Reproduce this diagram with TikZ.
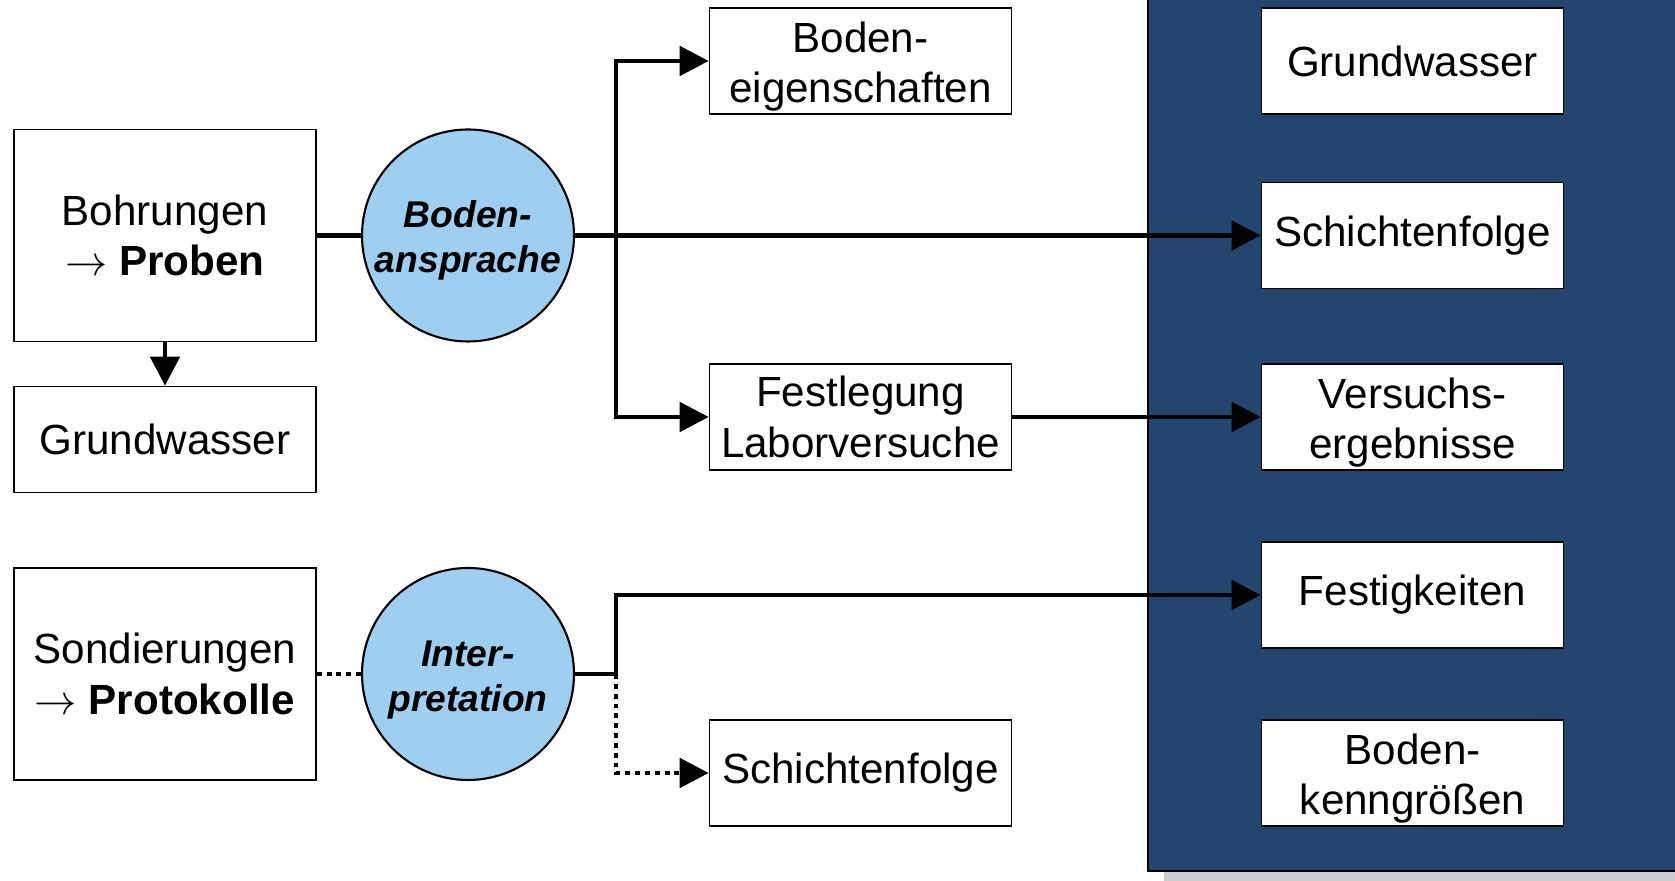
\documentclass[tikz,border=0pt]{standalone}
\usepackage{fontspec}
\setmainfont{Liberation Sans}
\usetikzlibrary{arrows.meta}
\definecolor{panelblue}{RGB}{36,70,110}
\definecolor{circleblue}{RGB}{158,207,241}
\newcommand{\topstrut}{\rule{0pt}{1em}}

\begin{document}
\begin{tikzpicture}[
    box/.style={draw, line width=0.45pt, fill=white, minimum width=3.02cm, minimum height=1.06cm,
      align=center, inner sep=0pt, font=\fontsize{12}{14.3}\selectfont},
    tallbox/.style={box, minimum height=2.12cm},
    actcircle/.style={circle, draw, line width=0.6pt, fill=circleblue, minimum size=2.12cm,
      inner sep=0pt, align=center, font=\fontsize{10.6}{12.8}\selectfont\bfseries\itshape},
    link/.style={line width=1.4pt},
    flow/.style={link, -{Triangle[length=2.9mm,width=2.9mm]}},
    dotlink/.style={link, dash pattern=on 1.4pt off 1.4pt},
]
    \useasboundingbox (0,0) rectangle (16.75,8.81);

    % Results panel with shadow
    \fill[gray!40] (11.64,0) rectangle (16.75,0.10);
    \filldraw[fill=panelblue, draw=black, line width=0.6pt] (11.48,0.10) rectangle (16.9,9.0);

    % Field work
    \node[tallbox] (bohr) at (1.65,6.455) {Bohrungen\\$\rightarrow$ \textbf{Proben}};
    \node[box] (gw1) at (1.65,4.415) {Grundwasser};
    \node[tallbox] (sond) at (1.65,2.07) {Sondierungen\\$\rightarrow$ \textbf{Protokolle}};

    % Evaluation steps
    \node[actcircle] (anspr) at (4.68,6.455) {\topstrut Boden-\\ansprache};
    \node[actcircle] (interp) at (4.68,2.07) {\topstrut Inter-\\pretation};

    % Intermediate results
    \node[box] (beig) at (8.605,8.2) {\topstrut Boden-\\eigenschaften};
    \node[box] (festl) at (8.605,4.64) {Festlegung\\Laborversuche};
    \node[box] (schicht2) at (8.605,1.08) {Schichtenfolge};

    % Results
    \node[box] (gw2) at (14.125,8.2) {Grundwasser};
    \node[box] (schicht1) at (14.125,6.455) {Schichtenfolge};
    \node[box] (versuch) at (14.125,4.64) {\topstrut Versuchs-\\ergebnisse};
    \node[box] (festig) at (14.125,2.86) {Festigkeiten};
    \node[box] (kenn) at (14.125,1.08) {\topstrut Boden-\\kenngrößen};

    % Junctions
    \coordinate (ja) at (6.16,6.455);
    \coordinate (jb) at (6.16,2.07);

    % Connectors
    \draw[flow] (bohr.south) -- (gw1.north);
    \draw[link] (bohr.east) -- (anspr.west);
    \draw[flow] (anspr.east) -- (schicht1.west);
    \draw[flow] (ja) |- (beig.west);
    \draw[flow] (ja) |- (festl.west);
    \draw[flow] (festl.east) -- (versuch.west);

    \draw[dotlink] (sond.east) -- (interp.west);
    \draw[flow] (interp.east) -- (jb) |- (festig.west);
    \draw[dotlink, -{Triangle[length=2.9mm,width=2.9mm]}] (jb) |- (schicht2.west);
\end{tikzpicture}
\end{document}
